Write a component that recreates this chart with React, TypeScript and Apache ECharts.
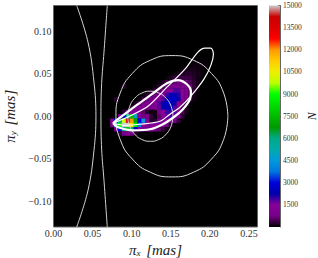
import React, { useEffect, useRef } from "react";
import * as echarts from "echarts";

const xTicks = [0, 0.05, 0.1, 0.15, 0.2, 0.25];
const yTicks = [-0.1, -0.05, 0, 0.05, 0.1];
const colorTicks = [1500, 3000, 4500, 6000, 7500, 9000, 10500, 12000, 13500, 15000];
const colorMax = [15000];

const heatX0 = 0.075;
const heatY0 = 0.07;
const heatStep = 0.005;
const heatRows: number[][] = [
  [0,0,0,0,0,0,0,0,0,0,0,0,0,0,0,0,0,0,0,0,0,0,0,0,0,0,0,0],
  [0,0,0,0,0,0,0,0,0,0,0,0,0,0,0,0,0,0,0,0,0,0,40,50,40,0,0,0],
  [0,0,0,0,0,0,0,0,0,0,0,0,0,0,0,0,0,0,0,0,60,100,100,80,50,0,0,0],
  [0,0,0,0,0,0,0,0,0,0,0,0,0,0,0,0,0,0,80,120,150,150,120,60,0,0,0,0],
  [0,0,0,0,0,0,0,0,0,0,0,0,0,0,0,0,80,150,200,250,250,200,150,60,0,0,0,0],
  [0,0,0,0,0,0,0,0,0,0,0,0,0,0,80,200,300,400,400,400,350,250,120,0,0,0,0,0],
  [0,0,0,0,0,0,0,0,0,0,0,0,80,200,350,500,700,800,800,700,500,300,120,0,0,0,0,0],
  [0,0,0,250,0,0,0,0,0,0,0,100,250,400,700,900,1100,1200,1200,1000,700,350,120,0,0,0,0,0],
  [0,0,0,0,0,0,0,0,0,60,150,350,500,800,1200,1500,1800,1800,1500,1100,600,250,60,0,0,0,0,0],
  [0,0,0,0,0,0,0,0,100,250,500,700,1000,1500,1900,2400,2500,2100,1500,1000,500,150,0,0,0,0,0,0],
  [0,250,0,0,0,0,0,100,400,700,800,1100,1400,1800,2300,2700,2700,2300,1500,900,400,100,0,0,0,0,0,0],
  [0,0,0,0,0,0,200,600,1000,1000,1100,1400,1800,2300,2700,2600,2200,1400,800,300,60,0,0,0,0,0,0,0],
  [0,0,0,0,0,300,800,1200,1100,900,800,1200,1700,2200,2500,2400,1800,1100,500,150,0,0,0,0,0,0,0,0],
  [0,0,0,300,1000,1500,1400,1100,600,200,100,100,800,1500,1900,2000,1800,1200,500,150,0,0,0,0,0,0,0,0],
  [0,0,800,3000,6000,7500,5000,1500,700,1000,300,100,600,1300,1700,1900,1600,1000,300,0,0,0,0,0,0,0,0,0],
  [1500,3000,6000,10000,13500,12000,7000,3000,4500,1500,200,300,900,1200,1300,1200,800,300,0,0,0,0,0,0,0,0,0,0],
  [1000,5000,9000,15000,15000,11000,8500,4000,1500,1200,1300,1500,1600,1300,700,200,0,0,0,0,0,0,0,0,0,0,0,0],
  [0,1000,3000,6000,8000,6000,2500,1500,1200,1000,900,800,600,300,100,0,0,0,0,0,0,0,0,0,0,0,0,0],
  [0,0,300,800,1200,800,200,0,0,0,0,0,0,0,0,0,0,0,0,0,0,0,0,0,0,0,0,0],
];

const outerBranch = [[0.0297,0.13],[0.0441,0.0871],[0.0518,0.04],[0.0543,0],[0.0518,-0.04],[0.0441,-0.0871],[0.0297,-0.13]];
const innerBranch = [[0.0688,0.13],[0.0646,0.0753],[0.0616,0.0385],[0.0607,0],[0.0616,-0.0385],[0.0646,-0.0753],[0.0688,-0.13]];
const bigCircle = [[0.2231,0],[0.2177,0.0272],[0.2021,0.0503],[0.1789,0.0658],[0.1515,0.0712],[0.1241,0.0658],[0.1009,0.0503],[0.0853,0.0272],[0.0799,0],[0.0853,-0.0272],[0.1009,-0.0503],[0.1241,-0.0658],[0.1515,-0.0712],[0.1789,-0.0658],[0.2021,-0.0503],[0.2177,-0.0272],[0.2231,0]];
const smallCircle = [[0.1528,0],[0.1506,0.0113],[0.1444,0.0208],[0.135,0.0272],[0.124,0.0294],[0.113,0.0272],[0.1036,0.0208],[0.0974,0.0113],[0.0952,0],[0.0974,-0.0113],[0.1036,-0.0208],[0.113,-0.0272],[0.124,-0.0294],[0.135,-0.0272],[0.1444,-0.0208],[0.1506,-0.0113],[0.1528,0]];
const largeEllipse = [[0.0761,-0.0082],[0.0914,-0.0024],[0.1208,0.0118],[0.1451,0.0341],[0.1682,0.0553],[0.1848,0.0753],[0.1937,0.08],[0.2014,0.08],[0.2046,0.0729],[0.2014,0.06],[0.1925,0.0435],[0.1746,0.0224],[0.1618,0.0106],[0.149,0.0024],[0.1362,-0.0059],[0.1106,-0.0094],[0.0914,-0.0106],[0.0761,-0.0082]];
const boldEllipse = [[0.0761,-0.0082],[0.0825,-0.0035],[0.1081,0.0141],[0.126,0.0259],[0.1451,0.0388],[0.1592,0.0424],[0.1707,0.0376],[0.1758,0.0294],[0.1746,0.02],[0.1656,0.0082],[0.1554,0],[0.14,-0.0094],[0.1234,-0.0153],[0.1017,-0.0165],[0.0825,-0.0129],[0.0761,-0.0082]];

const spectral = ["#000000","#770088","#880099","#0000aa","#0000dd","#0077dd","#0099dd","#00aaaa","#00aa88","#009900","#00bb00","#00dd00","#00ff00","#bbff00","#eeee00","#ffcc00","#ff9900","#ff0000","#dd0000","#cc0000","#cccccc"];

const SERIF = "'Liberation Serif', 'DejaVu Serif', serif";
const nameRich = {
  a: { fontFamily: SERIF, fontStyle: "italic", fontSize: 15, color: "#222" },
  s: { fontFamily: SERIF, fontStyle: "italic", fontSize: 9, color: "#222", padding: [6, 2, 0, 0] },
};

export default function App() {
  const ref = useRef<HTMLDivElement>(null);
  useEffect(() => {
    const chart = echarts.init(ref.current!, undefined, { renderer: "svg" });
    const heatData: number[][] = [];
    heatRows.forEach((row, r) =>
      row.forEach((v, c) => {
        if (v > 0) heatData.push([heatX0 + c * heatStep, heatY0 - r * heatStep, v]);
      })
    );
    const line = (data: number[][], width: number, color: string, smooth: number) => ({
      type: "line",
      data,
      xAxisIndex: 0,
      yAxisIndex: 0,
      symbol: "none",
      smooth,
      z: 5,
      lineStyle: { width, color },
      silent: true,
    });
    const labelStyle = { fontFamily: SERIF, fontSize: 10, color: "#333" };
    chart.setOption({
      animation: false,
      grid: [
        { left: 53.5, right: 60.5, top: 5.5, bottom: 31, show: true, backgroundColor: "#000", borderColor: "#666", borderWidth: 1, outerBoundsMode: "none" },
        { left: 269, right: 38, top: 5.5, bottom: 31, outerBoundsMode: "none" },
      ],
      xAxis: [
        {
          type: "value", gridIndex: 0, min: 0, max: 0.261,
          splitLine: { show: false }, axisLine: { show: false },
          axisTick: { show: false, customValues: xTicks },
          axisLabel: { ...labelStyle, margin: 1, customValues: xTicks, formatter: (v: number) => v.toFixed(2) },
          name: "{a|π}{s|x}{a| [mas]}", nameLocation: "middle", nameGap: 8, nameTextStyle: { rich: nameRich },
        },
        { type: "category", gridIndex: 1, data: ["N"], show: false },
      ],
      yAxis: [
        {
          type: "value", gridIndex: 0, min: -0.13, max: 0.13,
          splitLine: { show: false }, axisLine: { show: false },
          axisTick: { show: false, customValues: yTicks },
          axisLabel: { ...labelStyle, margin: 2, customValues: yTicks, formatter: (v: number) => (v < 0 ? "−" : "") + Math.abs(v).toFixed(2) },
          name: "{a|π}{s|y}{a| [mas]}", nameLocation: "middle", nameRotate: 90, nameGap: 27, nameTextStyle: { rich: nameRich },
        },
        {
          type: "value", gridIndex: 1, position: "right", min: 0, max: 15000,
          splitLine: { show: false },
          axisLine: { show: true, lineStyle: { color: "#666", width: 1 } },
          axisTick: { show: true, inside: true, length: 2, customValues: colorTicks, lineStyle: { color: "#333" } },
          axisLabel: { fontFamily: SERIF, fontSize: 7.5, color: "#333", margin: 3, customValues: colorTicks, formatter: (v: number) => String(v) },
          name: "N", nameLocation: "middle", nameRotate: 90, nameGap: 23,
          nameTextStyle: { fontFamily: SERIF, fontStyle: "italic", fontSize: 12, color: "#222" },
        },
      ],
      visualMap: { show: false, type: "continuous", seriesIndex: 0, dimension: 2, min: 0, max: 15000, inRange: { color: spectral } },
      series: [
        {
          type: "custom",
          xAxisIndex: 0, yAxisIndex: 0,
          data: heatData,
          encode: { x: 0, y: 1 },
          clip: true,
          silent: true,
          z: 1,
          renderItem: (_: any, api: any) => {
            const p = api.coord([api.value(0), api.value(1)]);
            const s = api.size([heatStep, heatStep]);
            return {
              type: "rect",
              shape: { x: p[0] - s[0] / 2, y: p[1] - s[1] / 2, width: s[0] + 0.3, height: s[1] + 0.3 },
              style: { fill: api.visual("color") },
            };
          },
        },
        line(outerBranch, 1, "#d0d0d0", 0.4),
        line(innerBranch, 1, "#d0d0d0", 0.4),
        line(bigCircle, 1, "#d8d8d8", 0.5),
        line(smallCircle, 1, "#d0d0d0", 0.5),
        line(largeEllipse, 1.2, "#ffffff", 0.3),
        line(boldEllipse, 2.2, "#ffffff", 0.3),
        {
          type: "bar",
          xAxisIndex: 1, yAxisIndex: 1,
          data: colorMax,
          barWidth: "100%",
          silent: true,
          itemStyle: {
            color: new echarts.graphic.LinearGradient(
              0, 1, 0, 0,
              spectral.map((color, i) => ({ offset: i / (spectral.length - 1), color }))
            ),
          },
        },
      ],
    });
    return () => chart.dispose();
  }, []);
  return <div ref={ref} style={{ position: "absolute", left: 0, top: 0, width: 318, height: 258 }} />;
}
